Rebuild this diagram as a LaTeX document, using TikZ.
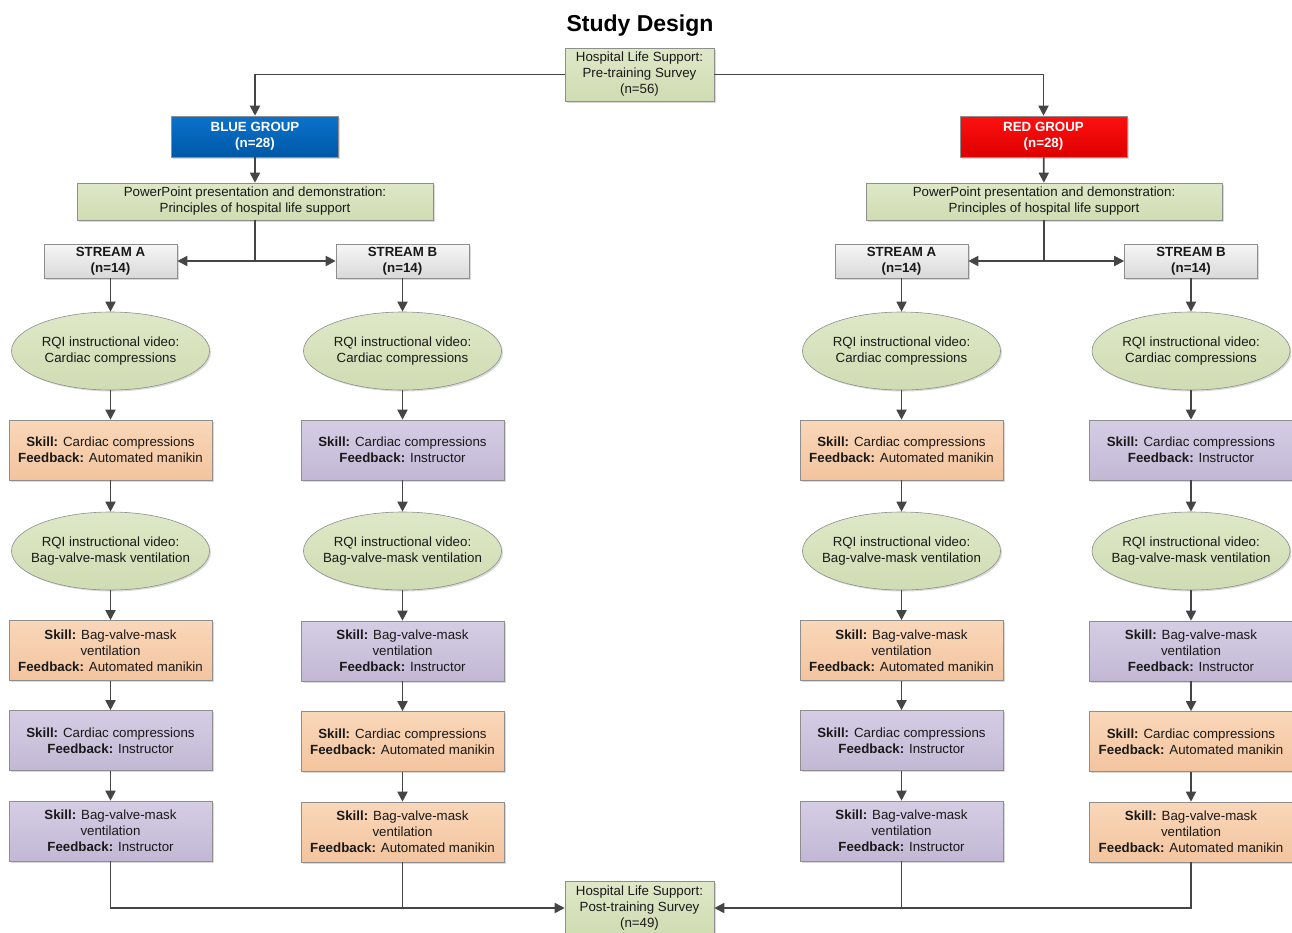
\documentclass[tikz,border=0pt]{standalone}
\usepackage{fontspec}
\setmainfont{Liberation Sans}
\usetikzlibrary{arrows.meta,shapes.geometric,shadows}
\definecolor{ink}{HTML}{454545}
\definecolor{edge}{HTML}{8E8E8E}
\definecolor{sagetop}{HTML}{DEE8C8}
\definecolor{sagebot}{HTML}{D0DCB2}
\definecolor{bluetop}{HTML}{0A72CC}
\definecolor{bluebot}{HTML}{0058A6}
\definecolor{redtop}{HTML}{FF1010}
\definecolor{redbot}{HTML}{DC0000}
\definecolor{greytop}{HTML}{F6F6F6}
\definecolor{greybot}{HTML}{D9D9D9}
\definecolor{peachtop}{HTML}{F9D7B9}
\definecolor{peachbot}{HTML}{F3C49E}
\definecolor{lilactop}{HTML}{D5CDE4}
\definecolor{lilacbot}{HTML}{C2B8D5}

\begin{document}
\begin{tikzpicture}[x=1pt,y=-1pt,font=\fontsize{13.3}{16}\selectfont,
  >={Triangle[length=10pt,width=10pt]},
  arr/.style={draw=ink,line width=1.8pt,->},
  link/.style={draw=ink,line width=1.8pt},
  box/.style={draw=edge,line width=.6pt,align=center,inner sep=0pt,
    text=black!90,drop shadow={shadow xshift=1.5pt,shadow yshift=-1.5pt,
    opacity=.25,fill=black!60}},
  survey/.style={box,top color=sagetop,bottom color=sagebot,
    minimum width=149pt,minimum height=53pt},
  lecture/.style={box,top color=sagetop,bottom color=sagebot,
    minimum width=356pt,minimum height=37pt},
  group/.style={box,text=white,font=\fontsize{13.3}{16}\selectfont\bfseries,
    minimum width=167pt,minimum height=41pt},
  stream/.style={box,top color=greytop,bottom color=greybot,
    font=\fontsize{13.3}{16}\selectfont\bfseries,
    minimum width=133pt,minimum height=34pt},
  video/.style={box,ellipse,top color=sagetop,bottom color=sagebot,
    inner xsep=-15pt,inner ysep=0pt,minimum width=198pt,minimum height=78pt},
  manikin/.style={box,top color=peachtop,bottom color=peachbot,
    minimum width=203pt,minimum height=60pt},
  instructor/.style={box,top color=lilactop,bottom color=lilacbot,
    minimum width=203pt,minimum height=60pt}]
  \useasboundingbox (0,0) rectangle (1292,932);
  \node[font=\fontsize{23}{28}\selectfont\bfseries] (title) at (640,26)
    {Study Design};
  \node[survey] (pre) at (639.5,74.5)
    {Hospital Life Support:\\Pre-training Survey\\(n=56)};
  \node[group,top color=bluetop,bottom color=bluebot] (bgrp) at (255,136.5)
    {BLUE GROUP\\(n=28)};
  \node[group,top color=redtop,bottom color=redbot] (rgrp) at (1043.5,136.5)
    {RED GROUP\\(n=28)};
  \node[lecture] (bppt) at (255,201.5)
    {PowerPoint presentation and demonstration:\\Principles of hospital life support};
  \node[lecture] (rppt) at (1044,201.5)
    {PowerPoint presentation and demonstration:\\Principles of hospital life support};

  \node[stream] (bAstream) at (110.5,261) {STREAM A\\(n=14)};
  \node[stream] (bBstream) at (402.5,261) {STREAM B\\(n=14)};
  \node[stream] (rAstream) at (901.5,261) {STREAM A\\(n=14)};
  \node[stream] (rBstream) at (1191,261) {STREAM B\\(n=14)};

  \node[video] (bAvid1) at (110.5,351) {RQI instructional video:\\Cardiac compressions};
  \node[video] (bBvid1) at (402.5,351) {RQI instructional video:\\Cardiac compressions};
  \node[video] (rAvid1) at (901.5,351) {RQI instructional video:\\Cardiac compressions};
  \node[video] (rBvid1) at (1191,351) {RQI instructional video:\\Cardiac compressions};

  \node[manikin] (bAcc1) at (110.5,450)
    {\textbf{Skill:} Cardiac compressions\\\textbf{Feedback:} Automated manikin};
  \node[instructor] (bBcc1) at (402.5,450)
    {\textbf{Skill:} Cardiac compressions\\\textbf{Feedback:} Instructor};
  \node[manikin] (rAcc1) at (901.5,450)
    {\textbf{Skill:} Cardiac compressions\\\textbf{Feedback:} Automated manikin};
  \node[instructor] (rBcc1) at (1191,450)
    {\textbf{Skill:} Cardiac compressions\\\textbf{Feedback:} Instructor};

  \node[video] (bAvid2) at (110.5,551) {RQI instructional video:\\Bag-valve-mask ventilation};
  \node[video] (bBvid2) at (402.5,551) {RQI instructional video:\\Bag-valve-mask ventilation};
  \node[video] (rAvid2) at (901.5,551) {RQI instructional video:\\Bag-valve-mask ventilation};
  \node[video] (rBvid2) at (1191,551) {RQI instructional video:\\Bag-valve-mask ventilation};

  \node[manikin] (bAbvm1) at (110.5,650.5)
    {\textbf{Skill:} Bag-valve-mask\\ventilation\\\textbf{Feedback:} Automated manikin};
  \node[instructor] (bBbvm1) at (402.5,651)
    {\textbf{Skill:} Bag-valve-mask\\ventilation\\\textbf{Feedback:} Instructor};
  \node[manikin] (rAbvm1) at (901.5,650.5)
    {\textbf{Skill:} Bag-valve-mask\\ventilation\\\textbf{Feedback:} Automated manikin};
  \node[instructor] (rBbvm1) at (1191,651)
    {\textbf{Skill:} Bag-valve-mask\\ventilation\\\textbf{Feedback:} Instructor};

  \node[instructor] (bAcc2) at (110.5,740.5)
    {\textbf{Skill:} Cardiac compressions\\\textbf{Feedback:} Instructor};
  \node[manikin] (bBcc2) at (402.5,741.5)
    {\textbf{Skill:} Cardiac compressions\\\textbf{Feedback:} Automated manikin};
  \node[instructor] (rAcc2) at (901.5,740.5)
    {\textbf{Skill:} Cardiac compressions\\\textbf{Feedback:} Instructor};
  \node[manikin] (rBcc2) at (1191,741.5)
    {\textbf{Skill:} Cardiac compressions\\\textbf{Feedback:} Automated manikin};

  \node[instructor] (bAbvm2) at (110.5,831)
    {\textbf{Skill:} Bag-valve-mask\\ventilation\\\textbf{Feedback:} Instructor};
  \node[manikin] (bBbvm2) at (402.5,832)
    {\textbf{Skill:} Bag-valve-mask\\ventilation\\\textbf{Feedback:} Automated manikin};
  \node[instructor] (rAbvm2) at (901.5,831)
    {\textbf{Skill:} Bag-valve-mask\\ventilation\\\textbf{Feedback:} Instructor};
  \node[manikin] (rBbvm2) at (1191,832)
    {\textbf{Skill:} Bag-valve-mask\\ventilation\\\textbf{Feedback:} Automated manikin};

  \node[survey] (post) at (639.5,908)
    {Hospital Life Support:\\Post-training Survey\\(n=49)};

  \draw[arr] (pre.west) -| (bgrp.north);
  \draw[arr] (pre.east) -| (rgrp.north);
  \draw[arr] (bgrp) -- (bppt);
  \draw[arr] (rgrp) -- (rppt);
  \coordinate (bfork) at (bppt.south |- bAstream.east);
  \coordinate (rfork) at (rppt.south |- rAstream.east);
  \draw[link] (bppt.south) -- (bfork);
  \draw[arr] (bfork) -- (bAstream);
  \draw[arr] (bfork) -- (bBstream);
  \draw[link] (rppt.south) -- (rfork);
  \draw[arr] (rfork) -- (rAstream);
  \draw[arr] (rfork) -- (rBstream);

  \draw[arr] (bAstream) -- (bAvid1);
  \draw[arr] (bAvid1) -- (bAcc1);
  \draw[arr] (bAcc1) -- (bAvid2);
  \draw[arr] (bAvid2) -- (bAbvm1);
  \draw[arr] (bAbvm1) -- (bAcc2);
  \draw[arr] (bAcc2) -- (bAbvm2);

  \draw[arr] (bBstream) -- (bBvid1);
  \draw[arr] (bBvid1) -- (bBcc1);
  \draw[arr] (bBcc1) -- (bBvid2);
  \draw[arr] (bBvid2) -- (bBbvm1);
  \draw[arr] (bBbvm1) -- (bBcc2);
  \draw[arr] (bBcc2) -- (bBbvm2);

  \draw[arr] (rAstream) -- (rAvid1);
  \draw[arr] (rAvid1) -- (rAcc1);
  \draw[arr] (rAcc1) -- (rAvid2);
  \draw[arr] (rAvid2) -- (rAbvm1);
  \draw[arr] (rAbvm1) -- (rAcc2);
  \draw[arr] (rAcc2) -- (rAbvm2);

  \draw[arr] (rBstream) -- (rBvid1);
  \draw[arr] (rBvid1) -- (rBcc1);
  \draw[arr] (rBcc1) -- (rBvid2);
  \draw[arr] (rBvid2) -- (rBbvm1);
  \draw[arr] (rBbvm1) -- (rBcc2);
  \draw[arr] (rBcc2) -- (rBbvm2);

  \draw[arr] (bAbvm2) |- (post);
  \draw[link] (bBbvm2) -- (bBbvm2 |- post);
  \draw[arr] (rBbvm2) |- (post);
  \draw[link] (rAbvm2) -- (rAbvm2 |- post);
\end{tikzpicture}
\end{document}
